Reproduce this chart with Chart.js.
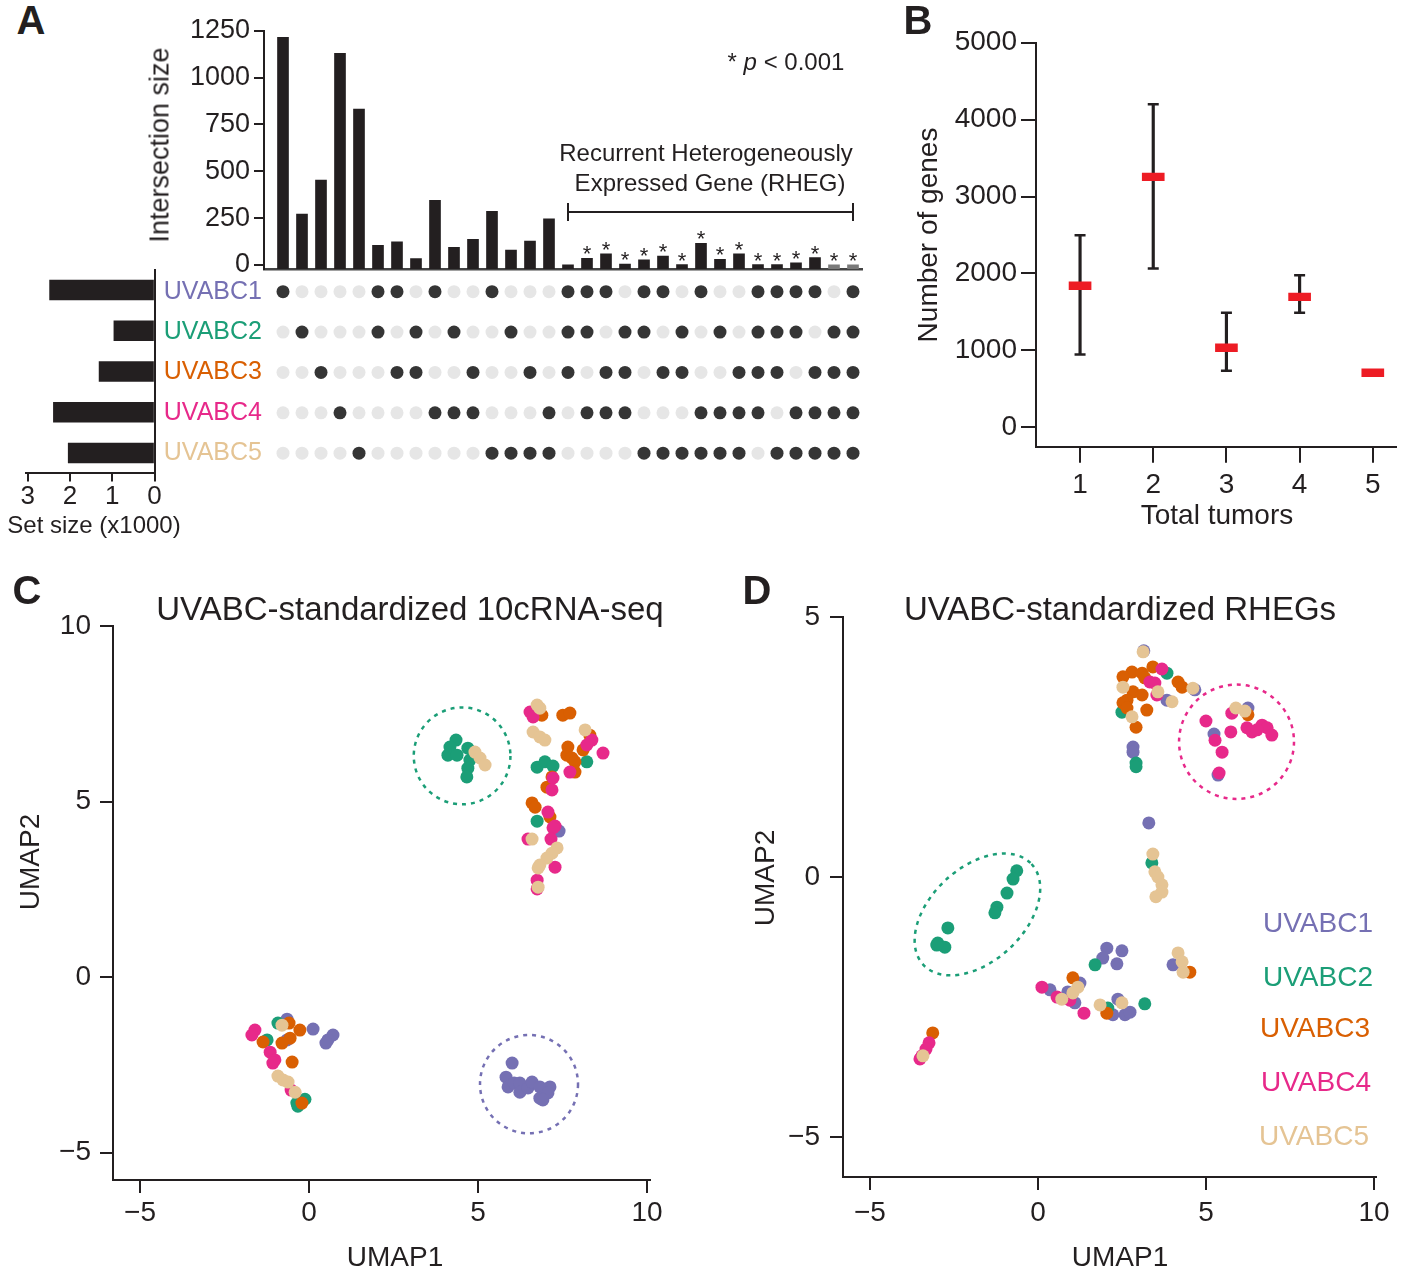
<!DOCTYPE html>
<html>
<head>
<meta charset="utf-8">
<script src="https://cdn.jsdelivr.net/npm/chart.js@4.4.1/dist/chart.umd.min.js"></script>
<style>
  html, body { margin: 0; padding: 0; background: #fff; }
  #fig { position: relative; width: 1404px; height: 1273px; overflow: hidden;
         font-family: 'Liberation Sans', Arial, sans-serif; color: #231f20; }
  #fig canvas { position: absolute; }
  .t { position: absolute; white-space: nowrap; line-height: 1; transform: translate(-50%, -50%); }
  .v { transform: translate(-50%, -50%) rotate(-90deg); }
  .lab { font-weight: bold; font-size: 40px; }
</style>
</head>
<body>
<div id="fig">
  <canvas id="aBars" width="720" height="285" style="left:150px;top:0px"></canvas>
  <canvas id="aMatrix" width="720" height="215" style="left:150px;top:265px"></canvas>
  <canvas id="aSets" width="170" height="280" style="left:0px;top:265px"></canvas>
  <canvas id="bChart" width="504" height="520" style="left:900px;top:20px"></canvas>
  <canvas id="cChart" width="700" height="703" style="left:0px;top:570px"></canvas>
  <canvas id="dChart" width="674" height="703" style="left:730px;top:570px"></canvas>

  <div class="t lab" style="left:31px;top:20px">A</div>
  <div class="t lab" style="left:918px;top:20px">B</div>
  <div class="t lab" style="left:27px;top:590px">C</div>
  <div class="t lab" style="left:757px;top:590px">D</div>

  <div class="t v" style="left:160px;top:145px;font-size:27px">Intersection size</div>
  <div class="t" style="left:786px;top:62px;font-size:24px">* <i>p</i> &lt; 0.001</div>
  <div class="t" style="left:706px;top:153px;font-size:24px">Recurrent Heterogeneously</div>
  <div class="t" style="left:710px;top:183px;font-size:24px">Expressed Gene (RHEG)</div>
  <div class="t" style="left:94px;top:525px;font-size:24px">Set size (x1000)</div>

  <div class="t v" style="left:928px;top:235px;font-size:28px">Number of genes</div>
  <div class="t" style="left:1217px;top:515px;font-size:28px">Total tumors</div>

  <div class="t" style="left:410px;top:608px;font-size:33px">UVABC-standardized 10cRNA-seq</div>
  <div class="t" style="left:395px;top:1257px;font-size:28px">UMAP1</div>
  <div class="t v" style="left:30px;top:862px;font-size:28px">UMAP2</div>

  <div class="t" style="left:1120px;top:608px;font-size:33px">UVABC-standardized RHEGs</div>
  <div class="t" style="left:1120px;top:1257px;font-size:28px">UMAP1</div>
  <div class="t v" style="left:765px;top:878px;font-size:28px">UMAP2</div>
  <div id="legend"></div>
</div>
<script>
// ---- data ----
const setNames = ['UVABC1', 'UVABC2', 'UVABC3', 'UVABC4', 'UVABC5']
const setColors = ['#7570b3', '#1b9e77', '#d95f02', '#e7298a', '#e5c494']
const setSizes = [2.48, 0.96, 1.31, 2.39, 2.04] // x1000
const setSizeTicks = [0, 1, 2, 3]

// intersections, which samples each column contains
const combos = ['1', '2', '3', '4', '5', '12', '13', '23', '14', '24', '34', '15', '25', '35', '45',
  '123', '124', '134', '234', '125', '135', '235', '145', '245', '345',
  '1234', '1235', '1245', '1345', '2345', '12345']
const intersectionSizes = [1214, 272, 453, 1129, 832, 105, 123, 34, 345, 94, 137, 286, 80, 128, 247,
  1, 36, 59, 5, 27, 48, 2, 116, 30, 59, 2, 2, 11, 39, 1, 1]
const starred = [0, 0, 0, 0, 0, 0, 0, 0, 0, 0, 0, 0, 0, 0, 0,
  0, 1, 1, 1, 1, 1, 1, 1, 1, 1, 1, 1, 1, 1, 1, 1]
const faintBars = [30, 31]
const intersectionTicks = [0, 250, 500, 750, 1000, 1250]
const rhegSpan = [16, 31]
const bracketLevel = 283

// panel B
const tumorCounts = [1, 2, 3, 4, 5]
const meanGenes = [1840, 3255, 1034, 1696, 709]
const errLow = [948, 2065, 735, 1488, null]
const errHigh = [2497, 4199, 1488, 1978, null]
const geneTicks = [0, 1000, 2000, 3000, 4000, 5000]

// panel C (UMAP of 10cRNA-seq)
const cUVABC1 = [[-0.65, -1.20], [0.12, -1.48], [0.71, -1.65], [0.56, -1.79], [0.50, -1.88], [-0.65, -1.79], [7.40, 4.16],
  [6.01, -2.45], [5.83, -2.85], [5.89, -3.13], [6.07, -3.02], [6.24, -3.02], [6.24, -3.28], [6.48, -3.16],
  [6.60, -2.99], [6.83, -3.13], [7.13, -3.13], [7.07, -3.30], [6.83, -3.45], [6.92, -3.50]]
const cUVABC2 = [[4.35, 6.75], [4.17, 6.55], [4.11, 6.32], [4.38, 6.32], [4.70, 6.52], [4.76, 6.18], [4.70, 5.95], [4.67, 5.70],
  [8.22, 6.13], [6.75, 5.98], [6.98, 6.13], [7.22, 6.01], [6.75, 4.44],
  [-0.92, -1.31], [-1.24, -1.79], [-0.12, -3.48], [-0.33, -3.68], [-0.36, -3.59]]
const cUVABC3 = [[6.89, 7.46], [7.51, 7.46], [7.72, 7.52], [8.31, 6.89], [8.11, 6.47], [7.66, 6.55], [7.63, 6.32], [7.78, 6.24],
  [7.87, 6.13], [7.87, 5.84], [7.19, 5.70], [7.04, 5.41], [6.60, 4.96], [6.69, 4.84], [7.13, 4.56],
  [-0.59, -1.31], [-1.36, -1.85], [-0.27, -1.51], [-0.56, -1.74], [-0.80, -1.88], [-0.50, -2.42], [-0.21, -3.59]]
const cUVABC4 = [[6.54, 7.55], [6.63, 7.41], [8.37, 6.75], [8.22, 6.61], [8.70, 6.38], [7.72, 5.84], [7.22, 5.67], [7.19, 5.33],
  [7.07, 4.70], [7.28, 4.30], [7.22, 4.25], [6.48, 3.93], [7.16, 3.93], [7.28, 3.13], [6.75, 2.76], [6.75, 2.51],
  [-1.60, -1.51], [-1.69, -1.65], [-1.15, -2.14], [-1.01, -2.36], [-1.07, -2.45], [-0.53, -3.22]]
const cUVABC5 = [[4.91, 6.41], [5.06, 6.24], [5.21, 6.04],
  [6.75, 7.75], [6.83, 7.66], [6.63, 6.98], [6.83, 6.84], [6.98, 6.75], [8.17, 7.04], [6.60, 3.93], [7.34, 3.68],
  [7.19, 3.53], [7.04, 3.39], [6.83, 3.19], [6.78, 3.11], [6.78, 2.56],
  [-0.80, -1.37], [-0.92, -2.82], [-0.77, -2.93], [-0.62, -2.99], [-0.41, -3.28]]
const cCircles = [
  { x: 4.53, y: 6.30, rx: 1.43, ry: 1.38, angle: 0, color: setColors[1] },
  { x: 6.51, y: -3.05, rx: 1.45, ry: 1.40, angle: 0, color: setColors[0] }
]

// panel D (UMAP of RHEGs)
const dUVABC1 = [[3.15, 4.35], [3.84, 3.40], [4.67, 3.60], [2.83, 2.50], [2.83, 2.40], [6.25, 3.25], [5.24, 2.75], [5.36, 1.96], [3.30, 1.04],
  [2.05, -1.37], [2.50, -1.42], [1.93, -1.56], [2.35, -1.67], [0.36, -2.17], [1.25, -2.04], [0.89, -2.21], [1.10, -2.42],
  [2.38, -2.35], [2.23, -2.65], [2.59, -2.65], [2.74, -2.60], [4.02, -1.69]]
const dUVABC2 = [[3.84, 3.92], [2.50, 3.17], [2.92, 2.19], [2.92, 2.12], [3.39, 0.27],
  [-0.63, 0.12], [-0.74, -0.04], [-0.92, -0.31], [-1.22, -0.58], [-1.28, -0.69], [-2.68, -0.98], [-2.98, -1.27], [-2.77, -1.35], [-3.01, -1.31],
  [1.70, -1.69], [2.08, -2.52], [3.18, -2.44]]
const dUVABC3 = [[2.80, 3.94], [2.53, 3.85], [3.10, 3.92], [3.42, 4.04], [3.18, 3.83], [2.83, 3.56], [3.10, 3.50], [2.65, 3.40],
  [2.53, 3.35], [2.65, 3.25], [2.92, 2.88], [3.24, 3.21], [4.17, 3.75], [4.29, 3.65], [6.25, 3.12],
  [1.04, -1.94], [2.05, -2.62], [4.52, -1.83], [-3.13, -3.00]]
const dUVABC4 = [[3.69, 4.00], [3.33, 3.75], [3.48, 3.73], [3.54, 3.50],
  [5.00, 3.00], [5.77, 3.15], [6.22, 2.87], [6.37, 2.79], [6.67, 2.92], [6.82, 2.87], [6.96, 2.73], [6.52, 2.83],
  [5.74, 2.79], [5.27, 2.63], [5.48, 2.40], [5.39, 2.00],
  [0.12, -2.12], [0.57, -2.31], [0.95, -2.37], [1.37, -2.62],
  [-3.24, -3.19], [-3.33, -3.31], [-3.45, -3.44], [-3.51, -3.50]]
const dUVABC5 = [[3.13, 4.33], [2.53, 3.65], [2.80, 3.08], [3.57, 3.56], [3.99, 3.37], [4.61, 3.63], [5.89, 3.25], [6.16, 3.19],
  [3.42, 0.44], [3.48, 0.10], [3.57, 0.00], [3.69, -0.15], [3.69, -0.29], [3.51, -0.38],
  [1.19, -2.12], [1.04, -2.23], [0.71, -2.35], [1.85, -2.46], [2.50, -2.42],
  [4.17, -1.46], [4.29, -1.63], [4.32, -1.83], [-3.42, -3.44]]
const dCircles = [
  { x: 5.91, y: 2.60, rx: 1.71, ry: 1.10, angle: 0, color: setColors[3] },
  { x: -1.80, y: -0.72, rx: 2.20, ry: 0.90, angle: 43, color: setColors[1] }
]
const umapTicksC = [-5, 0, 5, 10]
const umapTicksD = [-5, 0, 5, 10]
const umapTicksDy = [-5, 0, 5]

// ---- helpers ----
const FONT = "'Liberation Sans', Arial, sans-serif"
const INK = '#231f20'
Chart.defaults.font.family = FONT
Chart.defaults.color = INK

// force an axis to a fixed thickness so chart areas line up across canvases
function fixSize(size) {
  return scale => {
    if (scale.isHorizontal()) scale.height = size
    else scale.width = size
    scale.paddingLeft = scale.paddingRight = scale.paddingTop = scale.paddingBottom = 0
  }
}
function setTicks(values) {
  return scale => { scale.ticks = values.map(v => ({ value: v })) }
}
// plain numbers, real minus sign
const plain = v => (v < 0 ? '\u2212' + Math.abs(v) : String(v))

function axis(opts) {
  return Object.assign({
    type: 'linear',
    offset: false,
    border: { display: true, color: INK, width: 2 },
    grid: { display: true, drawOnChartArea: false, drawTicks: true, tickLength: 13, color: INK, lineWidth: 2, offset: false },
    ticks: { font: { size: 28 }, color: INK, padding: 6, callback: plain }
  }, opts)
}

const baseOptions = {
  responsive: false,
  animation: false,
  devicePixelRatio: 1,
  events: [],
  plugins: { legend: { display: false }, tooltip: { enabled: false } }
}

// stars above significant bars and the RHEG bracket
const starPlugin = {
  id: 'stars',
  afterDatasetsDraw(chart) {
    const { ctx, scales: { x, y } } = chart
    ctx.save()
    ctx.fillStyle = INK
    ctx.font = '22px ' + FONT
    ctx.textAlign = 'center'
    ctx.textBaseline = 'alphabetic'
    intersectionSizes.forEach((v, i) => {
      if (!starred[i]) return
      ctx.fillText('*', x.getPixelForValue(i + 1), y.getPixelForValue(v) + 3)
    })
    const x0 = x.getPixelForValue(rhegSpan[0])
    const x1 = x.getPixelForValue(rhegSpan[1])
    const yb = y.getPixelForValue(bracketLevel)
    ctx.strokeStyle = INK
    ctx.lineWidth = 2
    ctx.beginPath()
    ctx.moveTo(x0, yb - 9); ctx.lineTo(x0, yb + 9)
    ctx.moveTo(x0, yb); ctx.lineTo(x1, yb)
    ctx.moveTo(x1, yb - 9); ctx.lineTo(x1, yb + 9)
    ctx.stroke()
    ctx.restore()
  }
}

// dashed circles / ellipses around clusters
const circlePlugin = {
  id: 'circles',
  afterDatasetsDraw(chart, args, opts) {
    const { ctx, scales: { x, y } } = chart
    ;(opts.items || []).forEach(c => {
      const cx = x.getPixelForValue(c.x)
      const cy = y.getPixelForValue(c.y)
      const rx = Math.abs(x.getPixelForValue(c.x + c.rx) - cx)
      const ry = Math.abs(y.getPixelForValue(c.y + c.ry) - cy)
      ctx.save()
      ctx.setLineDash([4, 5])
      ctx.lineWidth = 2.5
      ctx.strokeStyle = c.color
      ctx.beginPath()
      ctx.ellipse(cx, cy, rx, ry, -c.angle * Math.PI / 180, 0, Math.PI * 2)
      ctx.stroke()
      ctx.restore()
    })
  }
}

// ---- A: intersection size bars ----
new Chart(document.getElementById('aBars'), {
  type: 'bar',
  data: {
    datasets: [{
      data: intersectionSizes.map((v, i) => ({ x: i + 1, y: v })),
      backgroundColor: intersectionSizes.map((v, i) => (faintBars.includes(i + 1) ? '#7a7a7a' : INK)),
      base: -21.3,
      barThickness: 11,
      grouped: false
    }]
  },
  options: {
    ...baseOptions,
    layout: { padding: { left: 0, right: 7.5, top: 30.7, bottom: 16 } },
    scales: {
      x: axis({
        min: 0, max: 31.5,
        ticks: { display: false },
        grid: { display: false, drawTicks: false },
        border: { display: true, color: '#444', width: 2.5 },
        afterFit: fixSize(0)
      }),
      y: axis({
        min: -21.3, max: 1250,
        grid: { display: true, drawOnChartArea: false, drawTicks: true, tickLength: 10, color: INK, lineWidth: 2 },
        ticks: { font: { size: 27 }, color: INK, padding: 4, callback: plain },
        afterBuildTicks: setTicks(intersectionTicks),
        afterFit: fixSize(114)
      })
    }
  },
  plugins: [starPlugin]
})

// ---- A: membership matrix ----
const matrixPoints = []
const matrixColors = []
setNames.forEach((name, r) => {
  combos.forEach((c, i) => {
    matrixPoints.push({ x: i + 1, y: r + 1 })
    matrixColors.push(c.includes(String(r + 1)) ? '#353535' : '#e6e6e6')
  })
})
new Chart(document.getElementById('aMatrix'), {
  type: 'scatter',
  data: {
    datasets: [{ data: matrixPoints, pointBackgroundColor: matrixColors, pointBorderWidth: 0, pointRadius: 6.5 }]
  },
  options: {
    ...baseOptions,
    layout: { padding: { left: 0, right: 7.5, top: 4.6, bottom: 6.6 } },
    scales: {
      x: { type: 'linear', min: 0, max: 31.5, display: false },
      y: {
        type: 'linear', min: 0.5, max: 5.5, reverse: true,
        border: { display: false },
        grid: { display: false, drawTicks: false },
        ticks: {
          font: { size: 25 }, padding: 2,
          color: ctx => setColors[ctx.tick.value - 1],
          callback: v => setNames[v - 1]
        },
        afterBuildTicks: setTicks([1, 2, 3, 4, 5]),
        afterFit: fixSize(114)
      }
    }
  }
})

// ---- A: set sizes ----
new Chart(document.getElementById('aSets'), {
  type: 'bar',
  data: {
    labels: setNames,
    datasets: [{ data: setSizes, backgroundColor: INK, barThickness: 20 }]
  },
  options: {
    ...baseOptions,
    indexAxis: 'y',
    layout: { padding: { left: 25.5, right: 15.5, top: 4.6, bottom: 0 } },
    scales: {
      x: axis({
        min: 0, max: 3.05, reverse: true,
        grid: { display: true, drawOnChartArea: false, drawTicks: true, tickLength: 8, color: INK, lineWidth: 2 },
        ticks: { font: { size: 26 }, color: INK, padding: 0, callback: plain },
        afterBuildTicks: setTicks(setSizeTicks),
        afterFit: fixSize(71.6)
      }),
      y: {
        type: 'category', position: 'right', offset: true,
        border: { display: true, color: INK, width: 2 },
        grid: { display: false, drawTicks: false },
        ticks: { display: false },
        afterFit: fixSize(0)
      }
    }
  }
})

// ---- B: genes by number of tumors ----
new Chart(document.getElementById('bChart'), {
  type: 'bar',
  data: {
    datasets: [
      {
        type: 'bar',
        data: tumorCounts.map((t, i) => ({ x: t, y: [errLow[i], errHigh[i]] })).filter(d => d.y[0] !== null),
        backgroundColor: INK, barThickness: 2.5, grouped: false, order: 3
      },
      {
        type: 'scatter',
        data: tumorCounts.flatMap((t, i) => (errLow[i] === null ? [] : [{ x: t, y: errLow[i] }, { x: t, y: errHigh[i] }])),
        pointStyle: 'line', pointRadius: 5.5, borderColor: INK, pointBorderWidth: 2.5, order: 2
      },
      {
        type: 'bar',
        data: tumorCounts.map((t, i) => ({ x: t, y: [meanGenes[i] - 50, meanGenes[i] + 50] })),
        backgroundColor: '#ed1c24', barThickness: 22, grouped: false, order: 1
      }
    ]
  },
  options: {
    ...baseOptions,
    layout: { padding: { left: 0, right: 6, top: 22.7, bottom: 0 } },
    scales: {
      x: axis({
        min: 0.398, max: 5.317,
        grid: { display: true, drawOnChartArea: false, drawTicks: true, tickLength: 16, color: INK, lineWidth: 2, offset: false },
        ticks: { font: { size: 28 }, color: INK, padding: 6, callback: plain },
        afterBuildTicks: setTicks(tumorCounts),
        afterFit: fixSize(93.3)
      }),
      y: axis({
        min: -252, max: 5000,
        grid: { display: true, drawOnChartArea: false, drawTicks: true, tickLength: 15, color: INK, lineWidth: 2 },
        ticks: { font: { size: 28 }, color: INK, padding: 4, callback: plain },
        afterBuildTicks: setTicks(geneTicks),
        afterFit: fixSize(136)
      })
    }
  }
})

// ---- C and D: UMAP scatter ----
function umapDatasets(groups) {
  return groups.map((pts, i) => ({
    data: pts.map(([x, y]) => ({ x, y })),
    pointBackgroundColor: setColors[i],
    pointBorderWidth: 0,
    pointRadius: 6.5,
    order: groups.length - i
  }))
}

new Chart(document.getElementById('cChart'), {
  type: 'scatter',
  data: { datasets: umapDatasets([cUVABC1, cUVABC2, cUVABC3, cUVABC4, cUVABC5]) },
  options: {
    ...baseOptions,
    layout: { padding: { left: 0, right: 50, top: 56, bottom: 0 } },
    plugins: { ...baseOptions.plugins, circles: { items: cCircles } },
    scales: {
      x: axis({
        min: -5.8, max: 10.09,
        ticks: { font: { size: 28 }, color: INK, padding: 3, callback: plain },
        afterBuildTicks: setTicks(umapTicksC),
        afterFit: fixSize(93)
      }),
      y: axis({
        min: -5.78, max: 10,
        ticks: { font: { size: 28 }, color: INK, padding: 9, callback: plain },
        afterBuildTicks: setTicks(umapTicksC),
        afterFit: fixSize(113)
      })
    }
  },
  plugins: [circlePlugin]
})

new Chart(document.getElementById('dChart'), {
  type: 'scatter',
  data: { datasets: umapDatasets([dUVABC1, dUVABC2, dUVABC3, dUVABC4, dUVABC5]) },
  options: {
    ...baseOptions,
    layout: { padding: { left: 0, right: 28, top: 47, bottom: 0 } },
    plugins: { ...baseOptions.plugins, circles: { items: dCircles } },
    scales: {
      x: axis({
        min: -5.8, max: 10.06,
        ticks: { font: { size: 28 }, color: INK, padding: 6, callback: plain },
        afterBuildTicks: setTicks(umapTicksD),
        afterFit: fixSize(96)
      }),
      y: axis({
        min: -5.77, max: 5,
        ticks: { font: { size: 28 }, color: INK, padding: 10, callback: plain },
        afterBuildTicks: setTicks(umapTicksDy),
        afterFit: fixSize(113)
      })
    }
  },
  plugins: [circlePlugin]
})

// legend of panel D
const legendSpots = [[1318, 923], [1318, 977], [1315, 1028], [1316, 1082], [1314, 1136]]
const legend = document.getElementById('legend')
setNames.forEach((name, i) => {
  const el = document.createElement('div')
  el.className = 't'
  el.style.cssText = `left:${legendSpots[i][0]}px;top:${legendSpots[i][1]}px;font-size:28px;color:${setColors[i]}`
  el.textContent = name
  legend.appendChild(el)
})
</script>
</body>
</html>
